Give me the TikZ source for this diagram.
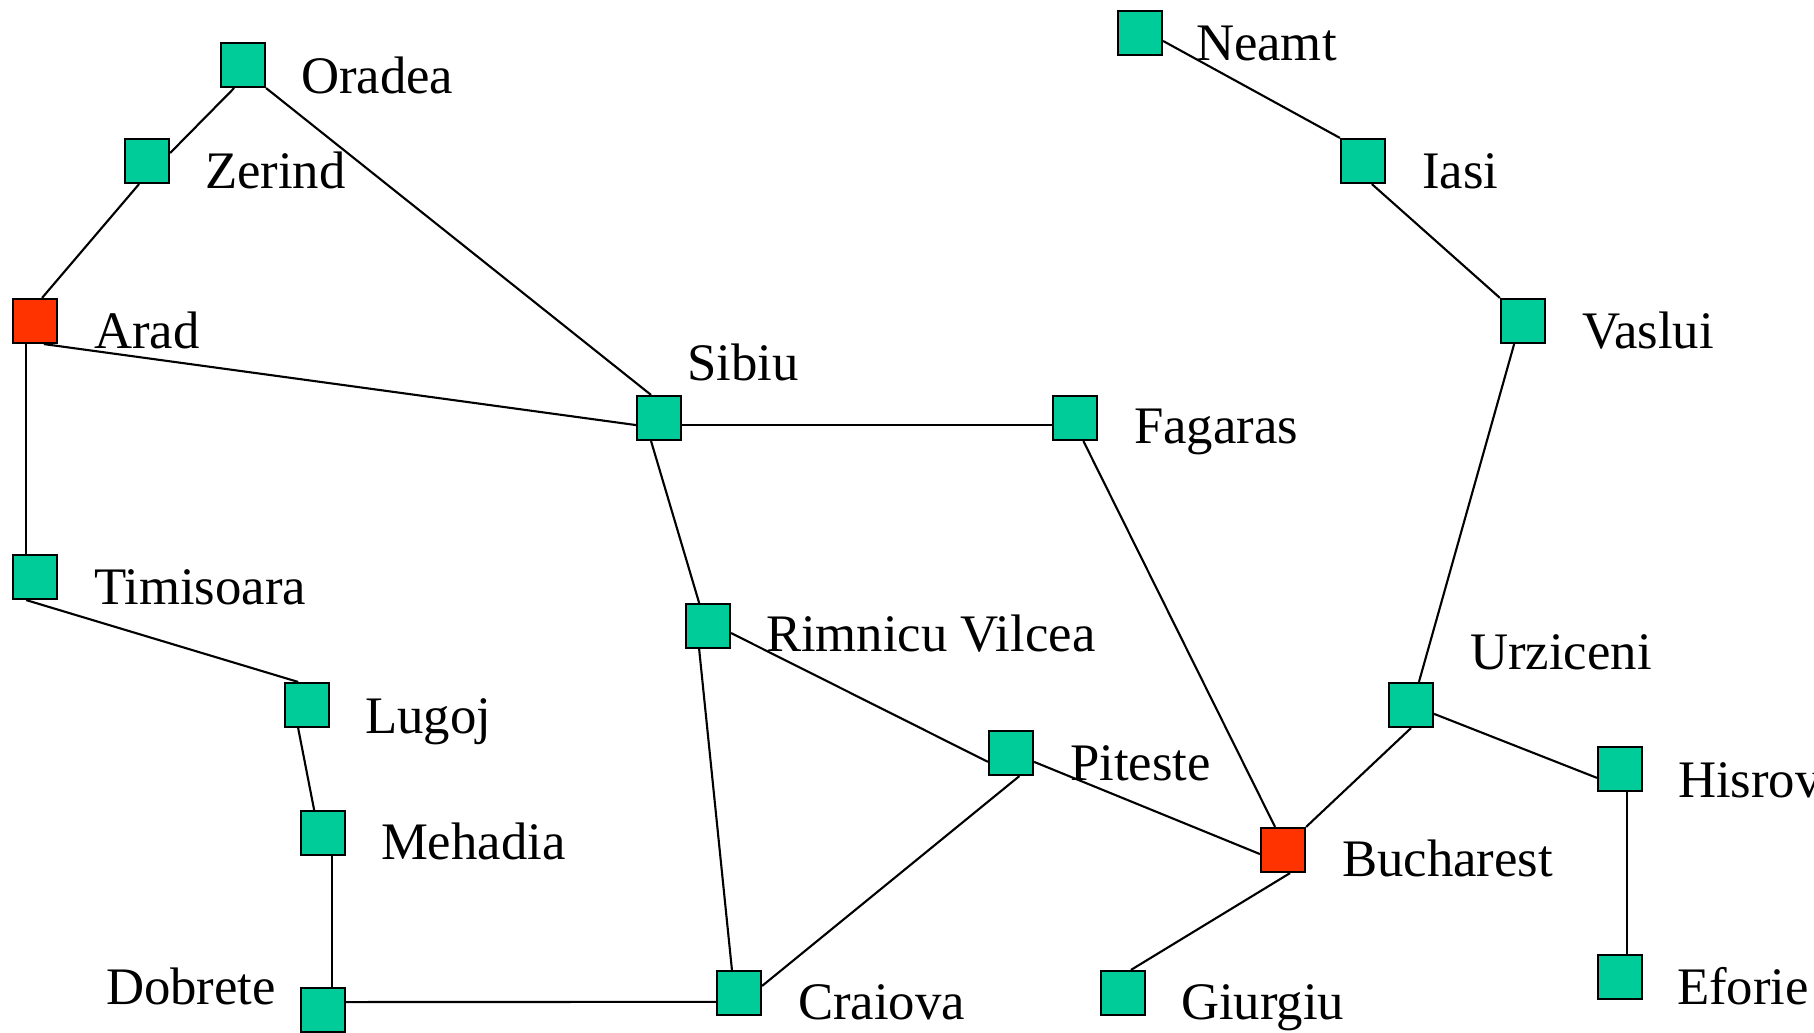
\documentclass[tikz,border=0pt]{standalone}
\usepackage{fontspec}
\setmainfont{Liberation Serif}
\definecolor{citygreen}{HTML}{00CC99}
\definecolor{cityred}{HTML}{FF3300}
\begin{document}
\begin{tikzpicture}[x=0.01cm,y=-0.01cm,line width=0.6pt,
    city/.style={draw,fill=citygreen,minimum size=0.44cm,inner sep=0pt},
    endcity/.style={city,fill=cityred},
    cityname/.style={inner sep=0pt,anchor=base west,font=\fontsize{15}{18}\selectfont}]
  \useasboundingbox (0,0) rectangle (1814,1033);
  \draw
    (243,65) node[city] (oradea){}
    (147,161) node[city] (zerind){}
    (35,321) node[endcity] (arad){}
    (659,418) node[city] (sibiu){}
    (1075,418) node[city] (fagaras){}
    (1140,33) node[city] (neamt){}
    (1363,161) node[city] (iasi){}
    (1523,321) node[city] (vaslui){}
    (35,577) node[city] (timisoara){}
    (708,626) node[city] (rimnicu){}
    (307,705) node[city] (lugoj){}
    (323,833) node[city] (mehadia){}
    (323,1010) node[city] (dobrete){}
    (739,993) node[city] (craiova){}
    (1011,753) node[city] (piteste){}
    (1283,850) node[endcity] (bucharest){}
    (1411,705) node[city] (urziceni){}
    (1620,769) node[city] (hirsova){}
    (1620,977) node[city] (eforie){}
    (1123,993) node[city] (giurgiu){};
  \draw
    (300,93) node[cityname] (oradea-l){Oradea}
    (204,188) node[cityname] (zerind-l){Zerind}
    (93,348) node[cityname] (arad-l){Arad}
    (686,380) node[cityname] (sibiu-l){Sibiu}
    (1133,443) node[cityname] (fagaras-l){Fagaras}
    (1195,60) node[cityname] (neamt-l){Neamt}
    (1421,188) node[cityname] (iasi-l){Iasi}
    (1581,348) node[cityname] (vaslui-l){Vaslui}
    (93,604) node[cityname] (timisoara-l){Timisoara}
    (765,651) node[cityname] (rimnicu-l){Rimnicu Vilcea}
    (364,733) node[cityname] (lugoj-l){Lugoj}
    (380,859) node[cityname] (mehadia-l){Mehadia}
    (277,1004) node[cityname,anchor=base east] (dobrete-l){Dobrete}
    (797,1019) node[cityname] (craiova-l){Craiova}
    (1069,780) node[cityname] (piteste-l){Piteste}
    (1341,876) node[cityname] (bucharest-l){Bucharest}
    (1469,669) node[cityname] (urziceni-l){Urziceni}
    (1677,797) node[cityname] (hirsova-l){Hisrova}
    (1676,1004) node[cityname] (eforie-l){Eforie}
    (1180,1019) node[cityname] (giurgiu-l){Giurgiu};
  \begin{scope}[-]
    \draw (oradea.-111) to (zerind.19);
    \draw (zerind.-109) to (arad.73);
    \draw (oradea.south east) to (sibiu.109);
    \draw (arad.-69) to (sibiu.-163);
    \draw (arad.-111) to (timisoara.111);
    \draw (timisoara.-111) to (lugoj.111);
    \draw (lugoj.-111) to (mehadia.111);
    \draw (mehadia.-69) to (dobrete.69);
    \draw (dobrete.19) to (craiova.-159);
    \draw (sibiu.-17) to (fagaras.-163);
    \draw (sibiu.-109) to (rimnicu.111);
    \draw (rimnicu.-111) to (craiova.107);
    \draw (rimnicu.-17) to (piteste.-159);
    \draw (craiova.17) to (piteste.-70);
    \draw (piteste.-21) to (bucharest.-170);
    \draw (fagaras.-70) to (bucharest.109);
    \draw (bucharest.north east) to (urziceni.south);
    \draw (bucharest.-73) to (giurgiu.71);
    \draw (urziceni.71) to (vaslui.-111);
    \draw (iasi.-69) to (vaslui.north west);
    \draw (neamt.-19) to (iasi.north west);
    \draw (urziceni.-21) to (hirsova.-159);
    \draw (hirsova.-73) to (eforie.73);
  \end{scope}
\end{tikzpicture}
\end{document}
